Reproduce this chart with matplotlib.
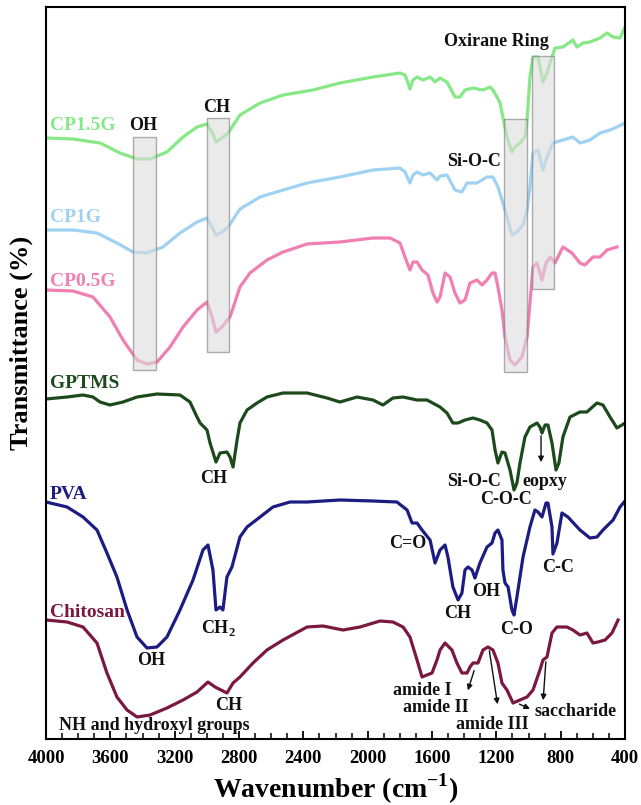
#Package imports###############################################################
import numpy as np
import matplotlib
matplotlib.use('Agg')
import matplotlib.pyplot as plt
from matplotlib.patches import Rectangle
from matplotlib.ticker import MultipleLocator
###############################################################################

plt.rcParams['font.family'] = ['Liberation Serif', 'DejaVu Serif']
plt.rcParams['font.weight'] = 'bold'
plt.rcParams['mathtext.fontset'] = 'custom'
plt.rcParams['mathtext.rm'] = 'Liberation Serif:bold'
plt.rcParams['mathtext.bf'] = 'Liberation Serif:bold'

#Data (wavenumber cm-1, stacked transmittance a.u.)############################
cp15_w = [4000, 3832, 3664, 3540, 3434, 3353, 3248, 3148, 3061, 2999, 2968, 2943, 2906, 2868,
          2794, 2669, 2526, 2377, 2340, 2172, 1967, 1799, 1768, 1749, 1737, 1718, 1693, 1656,
          1612, 1581, 1550, 1507, 1457, 1426, 1395, 1345, 1283, 1239, 1221, 1196, 1177, 1159,
          1134, 1103, 1084, 1053, 1022, 1009, 991, 972, 941, 910, 885, 854, 835, 786, 724, 699,
          661, 618, 555, 512, 474, 431, 400]
cp15_t = [601, 600, 596, 586, 580, 580, 587, 602, 612, 615, 607, 597, 601, 606,
          624, 636, 644, 648, 649, 656, 662, 666, 664, 656, 650, 659, 662, 659,
          662, 657, 661, 657, 642, 642, 649, 651, 649, 652, 649, 642, 636, 622,
          602, 587, 592, 596, 602, 619, 662, 682, 682, 657, 666, 682, 691, 692, 699, 692,
          696, 697, 701, 706, 702, 701, 712]

cp1_w = [4000, 3832, 3683, 3559, 3459, 3372, 3273, 3167, 3061, 2999, 2968, 2943, 2906, 2868,
         2794, 2669, 2526, 2377, 2172, 1967, 1799, 1768, 1737, 1718, 1693, 1656, 1612, 1569,
         1550, 1507, 1457, 1414, 1382, 1320, 1258, 1221, 1190, 1159, 1134, 1103, 1072, 1034,
         1009, 991, 972, 941, 910, 885, 848, 786, 724, 680, 618, 555, 493, 450, 400]
cp1_t = [509, 509, 506, 496, 487, 486, 492, 506, 517, 521, 512, 504, 507, 512,
         530, 542, 549, 556, 562, 569, 571, 567, 556, 564, 567, 564, 566, 559,
         563, 564, 549, 547, 556, 556, 562, 562, 552, 536, 522, 504, 507, 514,
         529, 552, 586, 589, 569, 582, 596, 599, 602, 596, 599, 606, 609, 612, 616]

cp05_w = [4000, 3832, 3708, 3602, 3521, 3434, 3372, 3310, 3229, 3148, 3061, 2999, 2968, 2943,
          2906, 2856, 2794, 2732, 2626, 2526, 2377, 2172, 1967, 1861, 1799, 1768, 1737, 1718,
          1693, 1662, 1625, 1594, 1569, 1550, 1519, 1488, 1457, 1426, 1395, 1364, 1320, 1289,
          1258, 1227, 1208, 1190, 1165, 1146, 1115, 1084, 1041, 1009, 991, 972, 947, 916, 891,
          866, 835, 786, 730, 680, 649, 599, 555, 512, 450]
cp05_t = [449, 448, 442, 422, 399, 379, 375, 377, 392, 412, 429, 437, 422, 407,
          412, 422, 452, 466, 479, 487, 495, 497, 501, 501, 496, 482, 469, 477,
          477, 469, 464, 446, 437, 442, 466, 462, 446, 436, 439, 456, 459, 454,
          459, 466, 466, 452, 429, 402, 379, 374, 382, 402, 436, 472, 476, 459, 476,
          482, 476, 492, 486, 476, 474, 482, 482, 489, 492]

gptms_w = [4000, 3869, 3770, 3708, 3664, 3602, 3521, 3434, 3310, 3167, 3105, 3061, 3042, 2999,
           2980, 2943, 2918, 2875, 2856, 2837, 2812, 2794, 2750, 2688, 2626, 2526, 2377, 2253,
           2172, 2066, 1967, 1905, 1843, 1780, 1693, 1631, 1550, 1507, 1470, 1438, 1395, 1345,
           1302, 1258, 1227, 1208, 1190, 1165, 1146, 1115, 1090, 1072, 1053, 1022, 991, 947,
           929, 916, 897, 879, 854, 829, 811, 786, 742, 680, 637, 574, 537, 493, 450, 419, 400]
gptms_t = [340, 342, 344, 342, 337, 334, 337, 342, 345, 344, 337, 322, 316, 309,
           296, 277, 286, 287, 282, 272, 299, 316, 329, 336, 342, 346, 346, 341,
           337, 342, 339, 334, 341, 342, 339, 339, 332, 326, 316, 316, 319, 321,
           319, 316, 309, 289, 276, 287, 286, 269, 249, 256, 276, 302, 312, 316,
           312, 306, 314, 314, 296, 269, 276, 302, 322, 327, 327, 336, 334, 322, 311, 314, 316]

pva_w = [4000, 3869, 3770, 3683, 3621, 3559, 3496, 3434, 3372, 3310, 3248, 3167, 3086, 3024,
         2993, 2962, 2943, 2918, 2900, 2875, 2844, 2794, 2750, 2669, 2589, 2483, 2377, 2172,
         1967, 1818, 1755, 1724, 1693, 1662, 1612, 1581, 1550, 1519, 1501, 1470, 1438, 1414,
         1395, 1376, 1351, 1333, 1302, 1258, 1227, 1208, 1190, 1165, 1159, 1146, 1127, 1103,
         1090, 1072, 1034, 991, 960, 941, 916, 891, 879, 854, 848, 823, 792, 755, 680, 618,
         574, 537, 493, 474, 431, 400]
pva_t = [237, 232, 222, 209, 186, 162, 129, 102, 91, 92, 102, 129, 159, 189,
         194, 169, 129, 132, 129, 162, 172, 202, 212, 222, 232, 237, 237, 239,
         238, 237, 229, 216, 216, 209, 199, 176, 189, 194, 182, 152, 139, 146,
         169, 172, 169, 161, 176, 192, 196, 206, 209, 199, 169, 156, 152, 129,
         124, 142, 182, 212, 229, 227, 222, 236, 236, 212, 185, 196, 226, 222, 209, 201,
         202, 209, 216, 219, 232, 238]

chit_w = [4000, 3869, 3770, 3683, 3621, 3559, 3496, 3434, 3353, 3248, 3148, 3061, 2993, 2949,
          2875, 2837, 2794, 2713, 2626, 2526, 2377, 2278, 2153, 2048, 1923, 1843, 1780, 1737,
          1693, 1662, 1631, 1600, 1569, 1550, 1519, 1476, 1445, 1414, 1382, 1364, 1345, 1314,
          1283, 1252, 1221, 1190, 1165, 1134, 1096, 1053, 1009, 972, 929, 910, 885, 854, 823,
          761, 724, 680, 637, 599, 568, 524, 481, 443]
chit_t = [119, 117, 112, 96, 66, 42, 29, 22, 24, 31, 39, 47, 57, 52,
          46, 56, 62, 76, 89, 99, 112, 113, 109, 112, 118, 117, 112, 102,
          79, 62, 64, 66, 79, 89, 96, 89, 76, 66, 66, 72, 76, 76,
          89, 92, 89, 76, 56, 49, 36, 39, 42, 49, 69, 79, 82, 106, 112,
          112, 109, 104, 106, 96, 97, 99, 106, 119]

series_names = ['CP1.5G', 'CP1G', 'CP0.5G', 'GPTMS', 'PVA', 'Chitosan']
series_colors = ['#86e886', '#9fd2f2', '#f07fb2', '#1c4a1c', '#1c1c82', '#7a1840']
series_label_t = [613, 522, 458, 356, 245, 127]

#shaded bands: (low wn, high wn, bottom, top)
bands = [(3316, 3459, 369, 602), (2862, 2999, 387, 621),
         (1009, 1152, 367, 620), (841, 978, 450, 683)]
###############################################################################

fig = plt.figure(figsize=(6.41, 8.05), dpi=100)
ax = fig.add_axes([46/641, 66/805, 579/641, 732/805])

data = [(cp15_w, cp15_t), (cp1_w, cp1_t), (cp05_w, cp05_t),
        (gptms_w, gptms_t), (pva_w, pva_t), (chit_w, chit_t)]
for (w, t), c in zip(data, series_colors):
    ax.plot(np.array(w), np.array(t), color=c, lw=2.3, solid_joinstyle='round', zorder=2)

for name, c, yt in zip(series_names, series_colors, series_label_t):
    ax.text(3975, yt, name, color=c, fontsize=14, fontweight='bold', ha='left', va='center', zorder=5)

for lo, hi, b, t in bands:
    ax.add_patch(Rectangle((lo, b), hi-lo, t-b, facecolor='#dcdcdc', edgecolor='#7a7a7a',
                           lw=1.0, alpha=0.6, zorder=3))

#annotations####################################################################
labels = [('OH', 3397, 613), ('CH', 2937, 632), ('Oxirane Ring', 1202, 697), ('Si-O-C', 1339, 577),
          ('CH', 2955, 261), ('CH$_2$', 2925, 111), ('OH', 3347, 79), ('CH', 2862, 34),
          ('NH and hydroxyl groups', 3328, 14), ('Si-O-C', 1339, 258), ('eopxy', 897, 258),
          ('C-O-C', 1140, 240), ('C=O', 1749, 195), ('CH', 1438, 126), ('OH', 1264, 148),
          ('C-O', 1072, 110), ('C-C', 817, 172), ('amide I', 1662, 49), ('amide II', 1575, 32),
          ('amide III', 1227, 15), ('saccharide', 705, 28)]
for s, x, y in labels:
    ax.text(x, y, s, fontsize=13, fontweight='bold', ha='center', va='center', color='#111111', zorder=5)

arrows = [((922, 306), (922, 274)), ((1333, 71), (1382, 46)), ((1246, 91), (1190, 32)),
          ((891, 80), (910, 36)), ((1072, 36), (975, 29))]
for p0, p1 in arrows:
    ax.annotate('', xy=p1, xytext=p0,
                arrowprops=dict(arrowstyle='-|>', color='#111111', lw=1.0, mutation_scale=8), zorder=5)

#axes#########################################################################
ax.set_xlim(4000, 400)
ax.set_ylim(0, 732)
ax.xaxis.set_major_locator(MultipleLocator(400))
ax.xaxis.set_minor_locator(MultipleLocator(100))
ax.tick_params(axis='x', which='major', direction='in', length=6, width=1.3, labelsize=13.5, pad=8)
ax.tick_params(axis='x', which='minor', direction='in', length=4, width=1.1)
ax.tick_params(axis='y', left=False, labelleft=False)
for lab in ax.get_xticklabels():
    lab.set_fontweight('bold')
for sp in ax.spines.values():
    sp.set_linewidth(1.5)

ax.set_xlabel('Wavenumber (cm$^{-1}$)', fontsize=20, fontweight='bold')
ax.xaxis.set_label_coords(0.5, -0.044)
ax.set_ylabel('Transmittance (%)', fontsize=19, fontweight='bold')
ax.yaxis.set_label_coords(-0.023, 0.541)

fig.savefig('out.png', dpi=100)
